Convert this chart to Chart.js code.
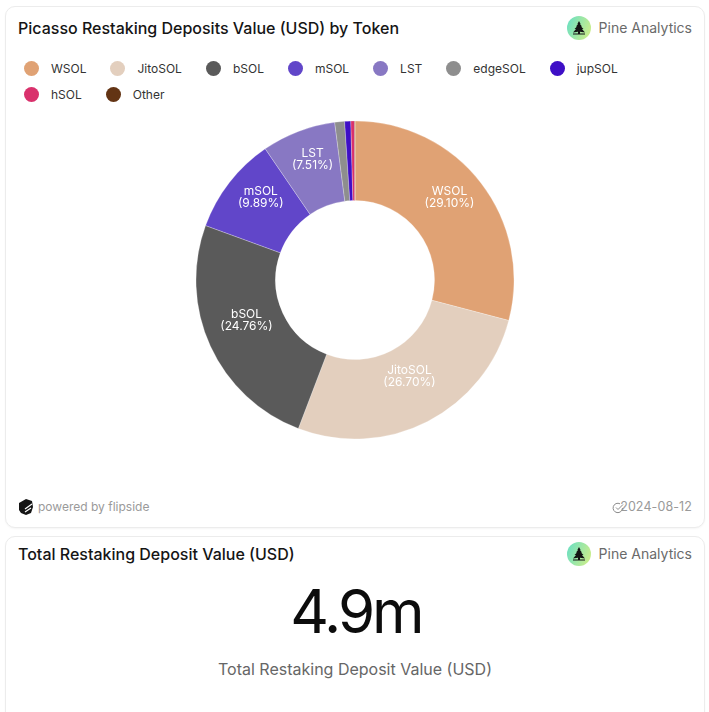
<!DOCTYPE html>
<html>
<head>
<meta charset="utf-8">
<title>Picasso Restaking Deposits</title>
<script src="https://cdn.jsdelivr.net/npm/chart.js@4"></script>
<style>
html, body { margin: 0; padding: 0; background: #fff; overflow: hidden; }
body { width: 709px; height: 712px; position: relative; font-family: Inter, sans-serif; color: #111; }
.card { position: absolute; left: 5px; width: 698px; border: 1px solid #ececec; border-radius: 10px; background: #fff; box-shadow: 0 1px 2px rgba(0,0,0,0.04); }
#card1 { top: 6px; height: 520px; }
#card2 { top: 536px; height: 200px; }
.abs { position: absolute; white-space: nowrap; line-height: 20px; }
.title { left: 12px; font-size: 16px; font-weight: 500; color: #151515; }
.brand { right: 12px; font-size: 14px; color: #6a6a6a; }
.logo { position: absolute; left: 561px; width: 24px; height: 24px; }
#legend { position: absolute; left: 18px; top: 48px; width: 640px; display: flex; flex-wrap: wrap; }
.item { display: flex; align-items: center; height: 26px; font-size: 12px; color: #333; margin-right: 24px; }
.dot { width: 15px; height: 15px; border-radius: 50%; margin-right: 12px; }
#chartBox { position: absolute; left: 179px; top: 103px; width: 340px; height: 340px; }
.foot { font-size: 12px; color: #9a9a9a; }
.date { font-size: 12.5px; letter-spacing: 0.1px; color: #9a9a9a; }
.big { left: 0; width: 700px; text-align: center; top: 38px; line-height: 72px; font-size: 60px; letter-spacing: -3px; font-weight: 400; color: #0c0c0c; }
.sub { left: -1px; width: 700px; text-align: center; top: 122px; font-size: 16px; color: #666; }
</style>
</head>
<body>
<div class="card" id="card1">
  <div class="abs title" style="top:11px">Picasso Restaking Deposits Value (USD) by Token</div>
  <div class="abs brand" style="top:11px">Pine Analytics</div>
  <svg class="logo" style="top:9px" viewBox="0 0 24 24"><use href="#pine"/></svg>
  <div id="legend"></div>
  <div id="chartBox"><canvas id="myChart" width="340" height="340"></canvas></div>
  <svg style="position:absolute;left:12px;top:491px" width="17" height="18" viewBox="0 0 17 18">
    <path d="M8 1 L14 3 L15 9 L13 15 L8 17 L3 15 L1 12 L1 5 Z" fill="#151515"/>
    <path d="M7 11 L14 6 M7 14 L13 10" stroke="#fff" stroke-width="1.2"/>
  </svg>
  <div class="abs foot" style="left:32px;top:490px">powered by flipside</div>
  <svg style="position:absolute;left:606px;top:495px" width="12" height="12" viewBox="0 0 12 12" fill="none" stroke="#8a8a8a" stroke-width="1">
    <path d="M10.5 6 A4.7 4.7 0 1 1 8 1.8"/><path d="M4 5.5 L6 7.5 L11 2.5"/>
  </svg>
  <div class="abs date" style="right:12px;top:490px">2024-08-12</div>
</div>
<div class="card" id="card2">
  <div class="abs title" style="top:7px">Total Restaking Deposit Value (USD)</div>
  <div class="abs brand" style="top:7px">Pine Analytics</div>
  <svg class="logo" style="top:5px" viewBox="0 0 24 24"><use href="#pine"/></svg>
  <div class="abs big">4.9m</div>
  <div class="abs sub">Total Restaking Deposit Value (USD)</div>
</div>
<svg width="0" height="0" style="position:absolute">
  <defs>
    <linearGradient id="pineGrad" x1="0" y1="0.3" x2="1" y2="0.7">
      <stop offset="0" stop-color="#6fe0c0"/><stop offset="1" stop-color="#cdee8a"/>
    </linearGradient>
    <g id="pine">
      <circle cx="12" cy="12" r="12" fill="url(#pineGrad)"/>
      <path d="M12 5 L13.6 8 L13 8 L15 10.5 L14 10.5 L16.5 13 L15 13 L18 16.5 L13 15.8 L13 17.5 L18 17.5 L18 18.5 L6 18.5 L6 17.5 L11 17.5 L11 15.8 L6 16.5 L9 13 L7.5 13 L10 10.5 L9 10.5 L11 8 L10.4 8 Z" fill="#141414"/>
    </g>
  </defs>
</svg>
<script>
const categories = ['WSOL', 'JitoSOL', 'bSOL', 'mSOL', 'LST', 'edgeSOL', 'jupSOL', 'hSOL', 'Other'];
const shares = [29.10, 26.70, 24.76, 9.89, 7.51, 1.00, 0.62, 0.38, 0.04];
const sliceColors = ['#E0A274', '#E3CFBE', '#5A5A5A', '#6146C9', '#8878C3', '#8E8E8E', '#3E0FC6', '#D9316C', '#633414'];
const labelMinShare = 5;

// legend is plain html so the spacing can follow the original
const legendEl = document.getElementById('legend');
categories.forEach((name, i) => {
    const item = document.createElement('div');
    item.className = 'item';
    const dot = document.createElement('span');
    dot.className = 'dot';
    dot.style.background = sliceColors[i];
    item.appendChild(dot);
    item.appendChild(document.createTextNode(name));
    legendEl.appendChild(item);
});

const sliceLabels = {
    id: 'sliceLabels',
    afterDatasetsDraw(chart) {
        const ctx = chart.ctx;
        ctx.save();
        ctx.font = '12px Inter';
        ctx.fillStyle = '#fff';
        ctx.textAlign = 'center';
        ctx.textBaseline = 'middle';
        chart.getDatasetMeta(0).data.forEach((arc, i) => {
            if (shares[i] < labelMinShare) return;
            const p = arc.getCenterPoint();
            ctx.fillText(categories[i], p.x, p.y - 15.5);
            ctx.fillText('(' + shares[i].toFixed(2) + '%)', p.x, p.y - 3.5);
        });
        ctx.restore();
    }
};

new Chart(document.getElementById('myChart'), {
    type: 'doughnut',
    data: {
        labels: categories,
        datasets: [{
            data: shares,
            backgroundColor: sliceColors,
            borderColor: 'rgba(255,255,255,0.5)',
            borderWidth: 0.5
        }]
    },
    options: {
        responsive: false,
        animation: false,
        radius: 159,
        cutout: '50%',
        layout: { padding: 0 },
        plugins: { legend: { display: false }, tooltip: { enabled: false } }
    },
    plugins: [sliceLabels]
});
</script>
</body>
</html>
